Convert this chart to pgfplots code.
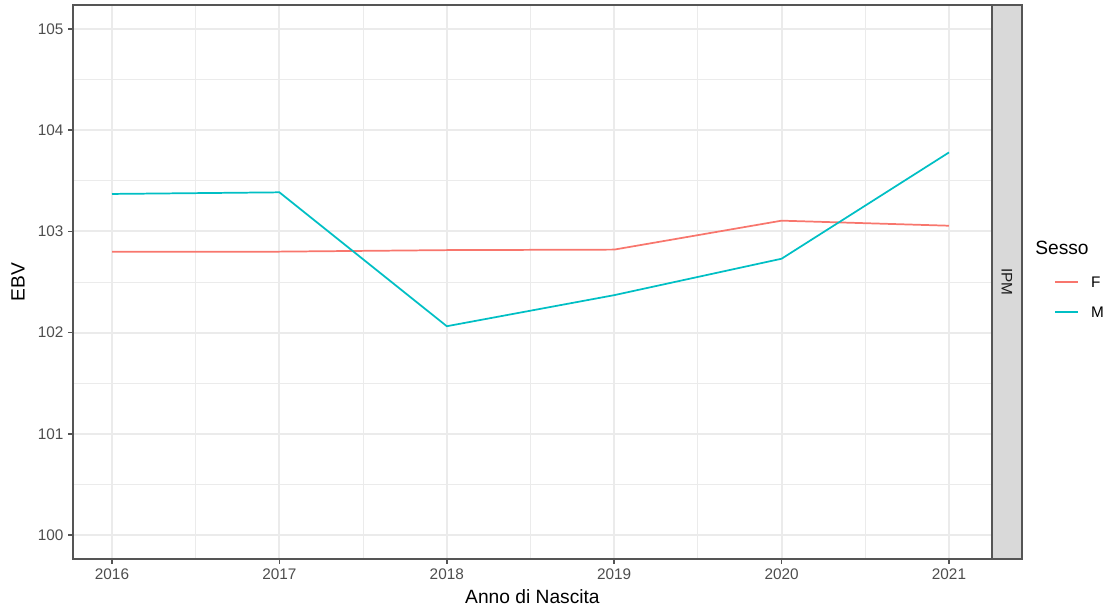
\documentclass[border=0pt]{standalone}
\usepackage{fontspec}
\setmainfont{Liberation Sans}
\usepackage{pgfplots}
\pgfplotsset{compat=1.18}
\definecolor{colF}{HTML}{F8766D}
\definecolor{colM}{HTML}{00BFC4}
\definecolor{gridc}{HTML}{EBEBEB}
\definecolor{grey20}{HTML}{333333}
\definecolor{border}{HTML}{555555}
\definecolor{grey30}{HTML}{4D4D4D}
\definecolor{grey85}{HTML}{D9D9D9}
\definecolor{grey10}{HTML}{1A1A1A}
\begin{document}
\begin{tikzpicture}
\path[use as bounding box] (-54.75pt,-39pt) rectangle (776.25pt,419.25pt);
\begin{axis}[
  at={(0pt,0pt)}, anchor=south west,
  scale only axis, width=689.25pt, height=415.5pt,
  xmin=2015.767, xmax=2021.257,
  ymin=99.763, ymax=105.237,
  xtick={2016,2017,2018,2019,2020,2021},
  ytick={100,101,102,103,104,105},
  minor xtick={2016.5,2017.5,2018.5,2019.5,2020.5},
  minor ytick={100.5,101.5,102.5,103.5,104.5},
  grid=both,
  major grid style={gridc, line width=1.4pt},
  minor grid style={gridc, line width=0.7pt},
  tick align=outside, tick pos=left,
  major tick length=3.6pt, minor tick length=0pt,
  tick style={border, line width=1.2pt},
  axis line style={border, line width=1.2pt},
  /pgf/number format/assume math mode=true,
  /pgf/number format/1000 sep={},
  xticklabel style={font=\fontsize{11.5}{13}\selectfont, text=grey30},
  yticklabel style={font=\fontsize{11.5}{13}\selectfont, text=grey30},
]
\addplot[colF, line width=1.3pt] coordinates {
(2016,102.80) (2017,102.80) (2018,102.815) (2019,102.82) (2020,103.106) (2021,103.056)
};
\addplot[colM, line width=1.3pt] coordinates {
(2016,103.37) (2017,103.386) (2018,102.063) (2019,102.37) (2020,102.73) (2021,103.78)
};
\end{axis}
% facet strip
\draw[border, fill=grey85, line width=1.2pt] (689.25pt,0pt) rectangle (711.75pt,415.5pt);
\node[rotate=-90, text=grey10, font=\fontsize{11.5}{13}\selectfont] at (700.5pt,207.75pt) {IPM};
% axis titles
\node[font=\fontsize{14.4}{16}\selectfont] at (344.6pt,-28.5pt) {Anno di Nascita};
\node[rotate=90, font=\fontsize{14.4}{16}\selectfont] at (-41.25pt,207.75pt) {EBV};
% legend
\node[anchor=west, inner sep=0pt, font=\fontsize{14.4}{16}\selectfont] at (721.5pt,233.25pt) {Sesso};
\draw[colF, line width=1.3pt] (736.5pt,207.75pt) -- (753.75pt,207.75pt);
\node[anchor=west, inner sep=0pt, font=\fontsize{11.5}{13}\selectfont] at (763.3pt,207.75pt) {F};
\draw[colM, line width=1.3pt] (736.5pt,185.25pt) -- (753.75pt,185.25pt);
\node[anchor=west, inner sep=0pt, font=\fontsize{11.5}{13}\selectfont] at (763.3pt,185.25pt) {M};
\end{tikzpicture}
\end{document}
